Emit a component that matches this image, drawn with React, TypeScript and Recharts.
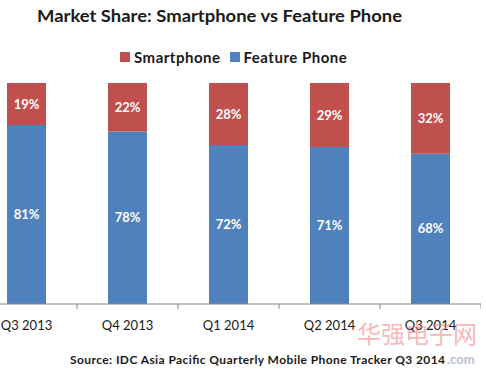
import React from 'react';
import { BarChart, Bar, XAxis, YAxis, LabelList } from 'recharts';

const categories = ['Q3 2013', 'Q4 2013', 'Q1 2014', 'Q2 2014', 'Q3 2014'];
const featurePhoneShare = [81, 78, 72, 71, 68];
const smartphoneShare = [19, 22, 28, 29, 32];
const legendNames = ['Smartphone', 'Feature Phone'];
const legendColors = ['#C0504D', '#4F81BD'];
const titleText = 'Market Share: Smartphone vs Feature Phone';
const sourceText = 'Source: IDC Asia Pacific Quarterly Mobile Phone Tracker Q3 2014';
const watermarkText = '华强电子网';
const watermarkSub = '.com';

const data = categories.map((c, i) => ({
  category: c,
  feature: featurePhoneShare[i],
  smart: smartphoneShare[i],
}));

const FONT = 'Lato, "Open Sans", sans-serif';
const CHART_W = 505;
const BAND = CHART_W / categories.length;

const Tick = (props: any) => {
  const { x, y, payload } = props;
  return (
    <g>
      <line x1={x + BAND / 2} x2={x + BAND / 2} y1={y} y2={y + 5} stroke="#868686" strokeWidth={1} />
      <text x={x} y={y + 21} textAnchor="middle" dominantBaseline="central" fontSize={13} fill="#1a1a1a" fontFamily={FONT}>
        {payload.value}
      </text>
    </g>
  );
};

const pct = (v: any) => `${v}%`;

export default function App() {
  return (
    <div style={{ position: 'absolute', left: 0, top: 0, width: 486, height: 372, overflow: 'hidden', background: '#fff', fontFamily: FONT }}>
      <BarChart
        width={CHART_W}
        height={372}
        data={data}
        margin={{ top: 83, right: 0, left: 0, bottom: 0 }}
        style={{ position: 'absolute', left: -24, top: 0 }}
      >
        <YAxis hide domain={[0, 100]} type="number" />
        <XAxis
          dataKey="category"
          height={68}
          tickLine={false}
          tickSize={0}
          tickMargin={0}
          axisLine={{ stroke: '#868686' }}
          tick={<Tick />}
          interval={0}
        />
        <Bar dataKey="feature" name="Feature Phone" stackId="a" fill={legendColors[1]} barSize={39} isAnimationActive={false}>
          <LabelList dataKey="feature" position="center" formatter={pct} fill="#fff" fontSize={13} fontWeight="bold" fontFamily={FONT} />
        </Bar>
        <Bar dataKey="smart" name="Smartphone" stackId="a" fill={legendColors[0]} barSize={39} isAnimationActive={false}>
          <LabelList dataKey="smart" position="center" formatter={pct} fill="#fff" fontSize={13} fontWeight="bold" fontFamily={FONT} />
        </Bar>
      </BarChart>
      <svg width={486} height={372} style={{ position: 'absolute', left: 0, top: 0, pointerEvents: 'none' }}>
        <text x={37} y={22} fontSize={17} fontWeight="bold" fill="#1a1a1a" fontFamily={FONT} textLength={365} lengthAdjust="spacingAndGlyphs">{titleText}</text>
        <text x={357} y={343} fontSize={24} fill="#f08080" opacity={0.55} fontFamily='"Noto Sans CJK SC", sans-serif'>{watermarkText}</text>
        <text x={447} y={364} fontSize={13} fontWeight="bold" fill="#9aa8c8" opacity={0.7} fontFamily={FONT}>{watermarkSub}</text>
        <text x={70} y={364} fontSize={12} fontWeight="bold" fill="#1a1a1a" fontFamily={FONT} textLength={375} lengthAdjust="spacing">{sourceText}</text>
      </svg>
      <div style={{ position: 'absolute', left: 120, top: 48, display: 'flex', alignItems: 'center', fontSize: 15, fontWeight: 'bold', color: '#1a1a1a' }}>
        {legendNames.map((n, i) => (
          <div key={n} style={{ display: 'flex', alignItems: 'center', marginRight: 9 }}>
            <div style={{ width: 10, height: 10, background: legendColors[i], marginRight: 4 }} />
            <span style={{ letterSpacing: 0.5 }}>{n}</span>
          </div>
        ))}
      </div>
    </div>
  );
}
